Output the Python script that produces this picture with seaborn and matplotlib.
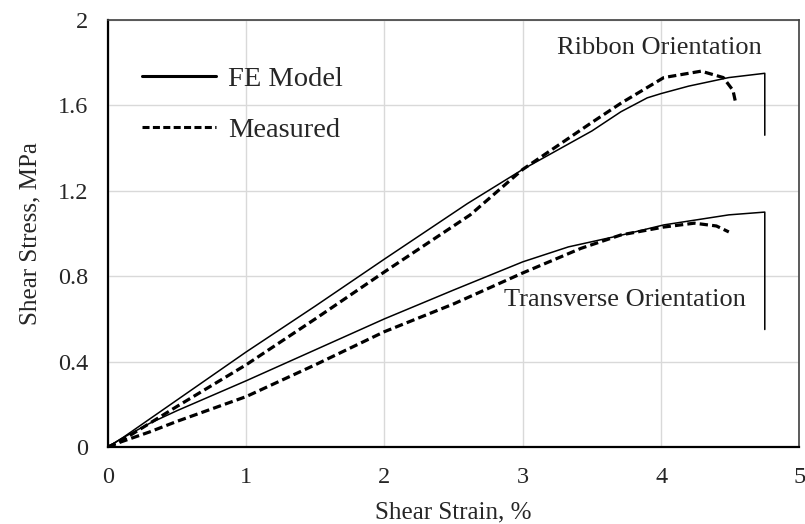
import numpy as np
import pandas as pd
import matplotlib
matplotlib.use("Agg")
import matplotlib.pyplot as plt
import seaborn as sb

# ribbon orientation
rib_fe_x = [0, 0.1, 0.3, 0.5, 1.0, 1.5, 2.0, 2.6, 3.0, 3.5, 3.71, 3.9, 4.0, 4.2, 4.49, 4.75, 4.75]
rib_fe_y = [0, 0.04, 0.13, 0.22, 0.445, 0.66, 0.88, 1.14, 1.30, 1.48, 1.57, 1.635, 1.655, 1.69, 1.73, 1.75, 1.46]
rib_ms_x = [0, 0.1, 0.3, 0.5, 1.0, 1.5, 2.0, 2.62, 3.0, 3.5, 3.71, 4.02, 4.29, 4.45, 4.52, 4.54]
rib_ms_y = [0, 0.03, 0.11, 0.19, 0.385, 0.60, 0.82, 1.087, 1.30, 1.52, 1.61, 1.73, 1.76, 1.73, 1.67, 1.61]

# transverse orientation
tr_fe_x = [0, 0.1, 0.3, 0.5, 1.0, 1.5, 2.0, 2.5, 3.0, 3.33, 3.7, 4.02, 4.49, 4.75, 4.75]
tr_fe_y = [0, 0.04, 0.11, 0.17, 0.31, 0.455, 0.60, 0.735, 0.867, 0.937, 0.99, 1.04, 1.087, 1.10, 0.55]
tr_ms_x = [0, 0.1, 0.3, 0.5, 1.0, 1.5, 2.0, 2.5, 3.0, 3.42, 3.71, 4.02, 4.24, 4.4, 4.49]
tr_ms_y = [0, 0.025, 0.07, 0.12, 0.236, 0.385, 0.54, 0.67, 0.815, 0.93, 0.993, 1.03, 1.048, 1.035, 1.007]

x_ticks = [0, 1, 2, 3, 4, 5]
y_ticks = [0, 0.4, 0.8, 1.2, 1.6, 2.0]
y_tick_labels = ["0", "0.4", "0.8", "1.2", "1.6", "2"]

sb.set_style("white")
plt.rcParams['font.family'] = ['Liberation Serif', 'DejaVu Serif']

fig = plt.figure(figsize=(8.05, 5.24), dpi=100)
ax = fig.add_axes([0.134, 0.147, 0.859, 0.815])

dash = (2.6, 1.3)
sb.lineplot(x=rib_fe_x, y=rib_fe_y, ax=ax, color='black', lw=1.1, estimator=None, sort=False)
sb.lineplot(x=tr_fe_x, y=tr_fe_y, ax=ax, color='black', lw=1.1, estimator=None, sort=False)
sb.lineplot(x=rib_ms_x, y=rib_ms_y, ax=ax, color='black', lw=2.3, estimator=None, sort=False)
ax.lines[-1].set_dashes(dash)
sb.lineplot(x=tr_ms_x, y=tr_ms_y, ax=ax, color='black', lw=2.3, estimator=None, sort=False)
ax.lines[-1].set_dashes(dash)

ax.set_xlim(0, 5)
ax.set_ylim(0, 2)
ax.set_xticks(x_ticks)
ax.set_yticks(y_ticks)
ax.set_yticklabels(y_tick_labels)
ax.grid(True, color='#d9d9d9', lw=1)
ax.tick_params(labelsize=17.5, length=0)
ax.tick_params(axis='x', pad=14.5)
ax.tick_params(axis='y', pad=14)
for s in ['top', 'right']:
    ax.spines[s].set_color('#404040')
    ax.spines[s].set_linewidth(1.2)
for s in ['left', 'bottom']:
    ax.spines[s].set_color('black')
    ax.spines[s].set_linewidth(1.6)

ax.set_xlabel("Shear Strain, %", fontsize=18, labelpad=9.5)
ax.set_ylabel("Shear Stress, MPa", fontsize=18, labelpad=12)

ax.text(3.99, 1.87, "Ribbon Orientation", fontsize=19, ha='center', va='center')
ax.text(3.74, 0.69, "Transverse Orientation", fontsize=19, ha='center', va='center')

h1, = ax.plot([], [], color='black', lw=2.2)
h2, = ax.plot([], [], color='black', lw=2.2, dashes=(2.3, 1.1))
ax.legend([h1, h2], ["FE Model", "Measured"], loc='upper left', bbox_to_anchor=(0.012, 0.953),
          frameon=False, fontsize=20.5, handlelength=2.6, handletextpad=0.42, labelspacing=0.89)

fig.savefig("out.png", dpi=100)
